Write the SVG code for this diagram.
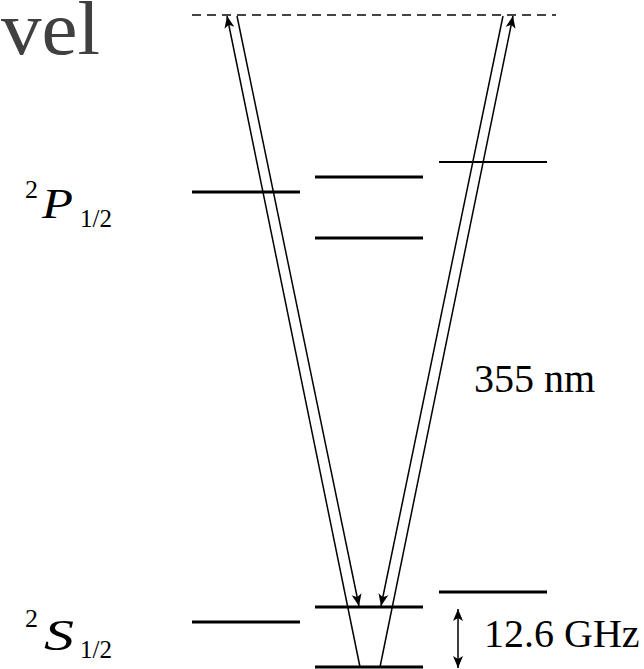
<svg xmlns="http://www.w3.org/2000/svg" width="644" height="669" viewBox="0 0 644 669">
<style>
.lvl{stroke:#000;stroke-width:3;fill:none}
.thin{stroke:#000;stroke-width:2;fill:none}
.beam{stroke:#000;stroke-width:1.5;fill:none}
.dash{stroke:#444;stroke-width:2;stroke-dasharray:9,6;fill:none}
.t{font-family:"Liberation Serif","Times New Roman","DejaVu Serif",serif;fill:#000}
.ti{font-family:"Liberation Serif","Times New Roman","DejaVu Serif",serif;font-style:italic;fill:#000}
</style>
<defs>
<marker id="ah" markerUnits="userSpaceOnUse" markerWidth="14" markerHeight="12" refX="12" refY="5" orient="auto" viewBox="0 0 14 10">
<path d="M0,0 L12,5 L0,10 L3,5 Z" fill="#000"/>
</marker>
</defs>
<rect width="644" height="669" fill="#fff"/>
<text class="t" x="1" y="54" font-size="76" style="fill:#404040" textLength="99" lengthAdjust="spacingAndGlyphs">vel</text>
<g id="virtual"><line class="dash" x1="192" y1="15" x2="556" y2="15"/></g>
<g id="levels">
<g id="p-left"><line class="lvl" x1="192" y1="192" x2="300" y2="192"/></g>
<g id="p-mid-top"><line class="lvl" x1="315" y1="177" x2="423" y2="177"/></g>
<g id="p-mid-bot"><line class="lvl" x1="315" y1="238" x2="423" y2="238"/></g>
<g id="p-right"><line class="thin" x1="439" y1="162" x2="547" y2="162"/></g>
<g id="s-left"><line class="lvl" x1="192" y1="622" x2="300" y2="622"/></g>
<g id="s-mid-top"><line class="lvl" x1="315" y1="607" x2="423" y2="607"/></g>
<g id="s-mid-bot"><line class="lvl" x1="315" y1="667" x2="423" y2="667"/></g>
<g id="s-right"><line class="lvl" x1="439" y1="592" x2="547" y2="592"/></g>
</g>
<g id="connectors">
<line class="beam" x1="360" y1="667" x2="227" y2="16" marker-end="url(#ah)"/>
<line class="beam" x1="237" y1="16" x2="359" y2="606" marker-end="url(#ah)"/>
<line class="beam" x1="380" y1="667" x2="513" y2="16" marker-end="url(#ah)"/>
<line class="beam" x1="503" y1="16" x2="381" y2="606" marker-end="url(#ah)"/>
<line class="beam" x1="458" y1="638" x2="458" y2="609" marker-end="url(#ah)"/>
<line class="beam" x1="458" y1="638" x2="458" y2="668" marker-end="url(#ah)"/>
</g>
<g id="label-p">
<text class="t" x="25" y="198" font-size="26">2</text>
<text class="ti" x="42" y="218" font-size="42" textLength="31" lengthAdjust="spacingAndGlyphs">P</text>
<text class="t" x="80" y="227" font-size="26" textLength="32" lengthAdjust="spacingAndGlyphs">1/2</text>
</g>
<g id="label-s">
<text class="t" x="25" y="627" font-size="26">2</text>
<text class="ti" x="44" y="650" font-size="44" textLength="30" lengthAdjust="spacingAndGlyphs">S</text>
<text class="t" x="80" y="658" font-size="26" textLength="32" lengthAdjust="spacingAndGlyphs">1/2</text>
</g>
<g id="label-355"><text class="t" x="474" y="392" font-size="40">355 nm</text></g>
<g id="label-ghz"><text class="t" x="484" y="647" font-size="40">12.6 GHz</text></g>
</svg>
